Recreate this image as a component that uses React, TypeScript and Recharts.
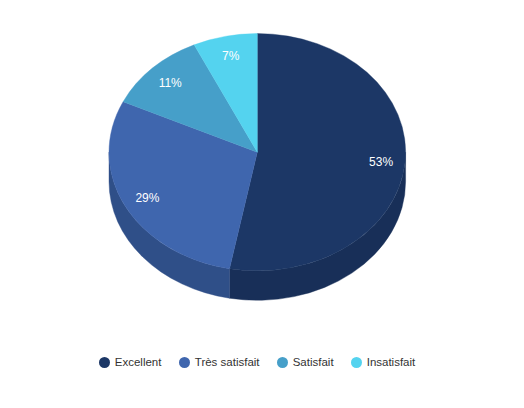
import React from "react";
import { PieChart, Pie, Cell, Legend } from "recharts";

const categories = ["Excellent", "Très satisfait", "Satisfait", "Insatisfait"];
const shares = [53, 29, 11, 7];
const topColors = ["#1c3766", "#3f66ae", "#469fc9", "#54d3ef"];
const wallColors = ["#182f58", "#2f4f88", "#357a9b", "#40a2b8"];

const rows = categories.map((name, i) => ({ name, value: shares[i] }));

const CX = 257.3;
const CY = 152.2;
const R = 148.3;
const SQUASH = 0.8;
const DEPTH = 29.5;
const RAD = Math.PI / 180;
const FONT = "'Liberation Sans', Arial, sans-serif";

const px = (cx: number, r: number, a: number) => cx + r * Math.cos(a * RAD);
const py = (cy: number, r: number, a: number) => cy - r * SQUASH * Math.sin(a * RAD);

function TopSlice(p: any) {
  const { cx, cy, outerRadius: r, startAngle: s, endAngle: e, fill } = p;
  const large = Math.abs(s - e) > 180 ? 1 : 0;
  const d = `M${cx},${cy} L${px(cx, r, s)},${py(cy, r, s)} A${r},${r * SQUASH} 0 ${large} 1 ${px(cx, r, e)},${py(cy, r, e)} Z`;
  return <path d={d} fill={fill} stroke={fill} strokeWidth={0.4} />;
}

function WallSlice(p: any) {
  const { cx, cy, outerRadius: r, startAngle, endAngle, fill } = p;
  const s = Math.min(startAngle, 0);
  const e = Math.max(endAngle, -180);
  if (s <= e) return <g />;
  const ry = r * SQUASH;
  const d =
    `M${px(cx, r, s)},${py(cy, r, s)} A${r},${ry} 0 0 1 ${px(cx, r, e)},${py(cy, r, e)} ` +
    `L${px(cx, r, e)},${py(cy, r, e) + DEPTH} A${r},${ry} 0 0 0 ${px(cx, r, s)},${py(cy, r, s) + DEPTH} Z`;
  return <path d={d} fill={fill} stroke={fill} strokeWidth={0.4} />;
}

function SliceLabel(p: any) {
  const { cx, cy, outerRadius: r, midAngle, value } = p;
  const k = 0.835;
  return (
    <text
      x={px(cx, r * k, midAngle) + 0.5}
      y={py(cy, r * k, midAngle) + 0.5}
      fill="#ffffff"
      fontSize={12}
      fontFamily={FONT}
      textAnchor="middle"
      dominantBaseline="central"
    >
      {`${value}%`}
    </text>
  );
}

function LegendRow() {
  const starts = [99.3, 179.3, 277.2, 351.2];
  return (
    <div style={{ position: "relative", height: 16, fontFamily: FONT, fontSize: 11.5, color: "#333333", whiteSpace: "nowrap" }}>
      {categories.map((name, i) => (
        <span key={name} style={{ position: "absolute", left: starts[i], top: 0, height: 16, display: "inline-flex", alignItems: "center" }}>
          <span style={{ width: 11, height: 11, borderRadius: "50%", background: topColors[i], marginRight: 4.5, display: "inline-block" }} />
          {name}
        </span>
      ))}
    </div>
  );
}

export default function App() {
  return (
    <div style={{ position: "absolute", left: 0, top: 0, width: 524, height: 408, background: "#fff" }}>
      <PieChart width={524} height={408} margin={{ top: 0, right: 0, bottom: 0, left: 0 }}>
        <Pie
          data={rows}
          dataKey="value"
          nameKey="name"
          cx={CX}
          cy={CY}
          innerRadius={0}
          outerRadius={R}
          startAngle={90}
          endAngle={-270}
          stroke="none"
          legendType="none"
          isAnimationActive={false}
          shape={WallSlice}
        >
          {rows.map((r, i) => (
            <Cell key={r.name} fill={wallColors[i]} />
          ))}
        </Pie>
        <Pie
          data={rows}
          dataKey="value"
          nameKey="name"
          cx={CX}
          cy={CY}
          innerRadius={0}
          outerRadius={R}
          startAngle={90}
          endAngle={-270}
          stroke="none"
          isAnimationActive={false}
          shape={TopSlice}
          label={SliceLabel}
          labelLine={false}
        >
          {rows.map((r, i) => (
            <Cell key={r.name} fill={topColors[i]} />
          ))}
        </Pie>
        <Legend
          content={LegendRow}
          verticalAlign="bottom"
          wrapperStyle={{ position: "absolute", left: 0, top: 354, bottom: "auto", width: 524, height: 16 }}
        />
      </PieChart>
    </div>
  );
}
